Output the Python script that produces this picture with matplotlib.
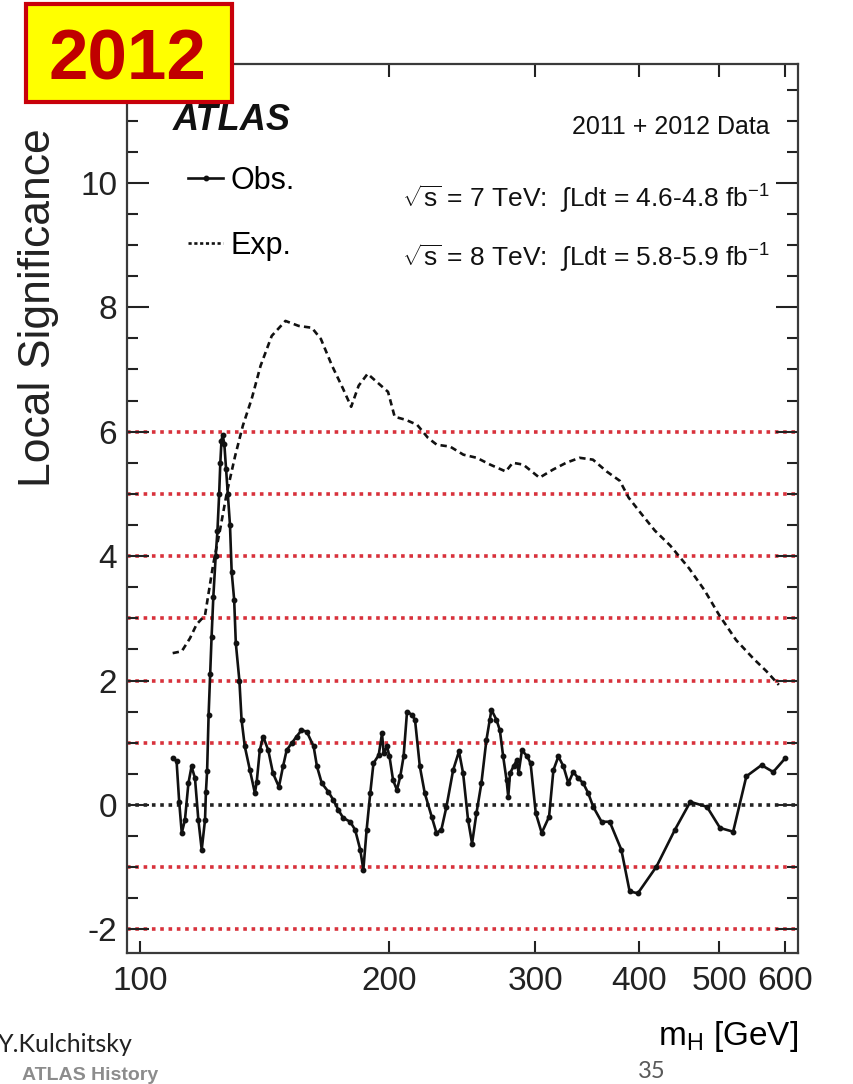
import matplotlib
matplotlib.use("Agg")
import matplotlib.pyplot as plt
from matplotlib.patches import Rectangle
from matplotlib.lines import Line2D

W, H = 854, 1084

# observed local significance (mass in GeV, value)
obs_m = [109.5, 110.7, 111.5, 112.3, 113.3, 114.4, 115.4, 116.5, 117.6, 118.7,
         119.8, 120.1, 120.5, 121.0, 121.5, 122.0, 122.6, 123.4, 124.0, 124.6,
         125.0, 125.4, 125.8, 126.4, 127.0, 127.6, 128.4, 129.0, 129.9, 130.5,
         131.8, 132.6, 133.8, 135.7, 137.6, 138.3, 139.5, 140.8, 142.8, 144.7,
         147.1, 148.8, 150.3, 152.4, 154.5, 156.6, 158.9, 162.0, 163.5, 165.7,
         168.8, 171.1, 173.5, 175.9, 179.3, 181.8, 184.4, 186.0, 187.7, 189.6,
         191.3, 194.1, 195.9, 196.8, 198.6, 200.0, 202.0, 204.2, 206.1, 208.0,
         210.0, 212.8, 214.7, 217.6, 220.6, 224.9, 227.9, 231.0, 234.3, 238.7,
         242.6, 245.4, 248.8, 251.6, 254.7, 258.2, 261.8, 264.3, 265.5, 269.2,
         271.8, 274.3, 276.9, 278.2, 279.6, 282.3, 284.9, 286.3, 289.0, 293.3,
         296.0, 300.3, 305.3, 311.6, 315.4, 319.8, 324.3, 328.8, 333.3, 337.9,
         342.6, 347.4, 352.3, 360.5, 368.8, 380.9, 389.8, 398.8, 420.0, 442.0,
         461.4, 483.2, 501.1, 519.7, 539.1, 562.3, 580.9, 600.6]
obs_z = [0.76, 0.70, 0.05, -0.45, -0.24, 0.35, 0.62, 0.43, -0.24, -0.72,
         -0.24, 0.21, 0.55, 1.45, 2.10, 2.70, 3.35, 4.00, 4.40, 5.00,
         5.50, 5.85, 5.95, 5.80, 5.40, 5.00, 4.50, 3.75, 3.30, 2.60,
         2.00, 1.37, 0.94, 0.56, 0.19, 0.37, 0.88, 1.10, 0.88, 0.51,
         0.29, 0.62, 0.88, 0.99, 1.10, 1.20, 1.18, 0.94, 0.62, 0.35,
         0.21, 0.08, -0.08, -0.21, -0.27, -0.40, -0.72, -1.04, -0.40, 0.19,
         0.67, 0.80, 1.15, 0.83, 0.94, 0.78, 0.40, 0.24, 0.46, 0.78,
         1.50, 1.45, 1.37, 0.62, 0.19, -0.19, -0.45, -0.40, -0.03, 0.56,
         0.86, 0.51, -0.24, -0.62, -0.13, 0.35, 1.04, 1.37, 1.53, 1.37,
         1.20, 0.78, 0.40, 0.13, 0.51, 0.62, 0.72, 0.51, 0.88, 0.78,
         0.67, -0.13, -0.45, -0.19, 0.56, 0.78, 0.62, 0.35, 0.53, 0.43,
         0.35, 0.19, -0.03, -0.27, -0.27, -0.72, -1.39, -1.42, -0.99, -0.40,
         0.05, -0.03, -0.37, -0.43, 0.46, 0.64, 0.53, 0.75]

# expected local significance
exp_m = [109.5, 112.3, 114.9, 117.0, 119.8, 122.6, 124.9, 127.2, 130.2, 133.1,
         136.4, 139.8, 144.2, 149.8, 155.4, 161.2, 165.3, 170.5, 175.8, 179.8,
         183.6, 188.2, 194.2, 199.2, 202.9, 209.3, 216.0, 222.6, 228.1, 236.7,
         245.6, 254.9, 264.6, 276.3, 281.7, 290.1, 303.4, 315.0, 326.8, 339.2,
         352.0, 365.7, 379.3, 388.7, 403.2, 418.1, 436.3, 460.0, 480.0, 500.0,
         524.0, 550.0, 570.0, 590.0]
exp_z = [2.44, 2.47, 2.68, 2.90, 3.05, 3.88, 4.42, 5.00, 5.60, 6.10,
         6.53, 7.06, 7.54, 7.78, 7.70, 7.67, 7.49, 7.06, 6.69, 6.40,
         6.74, 6.93, 6.77, 6.64, 6.24, 6.19, 6.11, 5.90, 5.79, 5.76,
         5.63, 5.58, 5.47, 5.36, 5.50, 5.47, 5.26, 5.39, 5.50, 5.58,
         5.55, 5.36, 5.21, 4.94, 4.67, 4.41, 4.17, 3.80, 3.45, 3.05,
         2.65, 2.35, 2.15, 1.93]

sigma_lines = [-2, -1, 1, 2, 3, 4, 5, 6]
x_ticks = [100, 200, 300, 400, 500, 600]
y_ticks = [-2, 0, 2, 4, 6, 8, 10]

plt.rcParams['font.family'] = ['Liberation Sans', 'DejaVu Sans']
plt.rcParams['axes.unicode_minus'] = False
plt.rcParams['mathtext.fontset'] = 'custom'
plt.rcParams['mathtext.rm'] = 'Liberation Sans'
plt.rcParams['mathtext.it'] = 'Liberation Sans:italic'
plt.rcParams['mathtext.bf'] = 'Liberation Sans:bold'

def fx(px):
    return px / W

def fy(py):
    return 1 - py / H

fig = plt.figure(figsize=(W / 100, H / 100), dpi=100)
ax = fig.add_axes([fx(127), fy(953), fx(798) - fx(127), fy(64) - fy(953)])

for s in sigma_lines:
    ax.axhline(s, color='#d8323c', lw=2.6, ls=(0, (1, 1.3)), zorder=1)
ax.axhline(0, color='#222222', lw=2.6, ls=(0, (1, 1.3)), zorder=1)

ax.plot(exp_m, exp_z, color='#111111', lw=1.9, ls=(0, (2.4, 1.6)), zorder=3)
ax.plot(obs_m, obs_z, color='#111111', lw=1.9, marker='o', ms=3.2, zorder=4)

ax.set_xscale('log')
ax.set_xlim(96.45, 622.3)
ax.set_ylim(-2.38, 11.91)

ax.set_xticks(x_ticks)
ax.set_xticklabels([str(t) for t in x_ticks])
ax.xaxis.set_minor_locator(matplotlib.ticker.NullLocator())
ax.set_yticks(y_ticks)
ax.yaxis.set_minor_locator(matplotlib.ticker.MultipleLocator(0.5))
ax.tick_params(axis='both', which='both', direction='in', top=True, right=True,
               labelsize=24, colors='#222222', width=1.5)
ax.tick_params(axis='y', which='major', length=16, pad=7)
ax.tick_params(axis='y', which='minor', length=8)
ax.tick_params(axis='x', which='major', length=9, pad=9)
for sp in ax.spines.values():
    sp.set_linewidth(1.6)
    sp.set_color('#3a3a3a')

ax.set_xlabel(r'm$_{\rm H}$ [GeV]', fontsize=24, loc='right', va='baseline')
ax.xaxis.set_label_coords(1.0, (953 - 1045) / 889)

fig.text(fx(50), fy(487), 'Local Significance', rotation=90, rotation_mode='anchor',
         ha='left', va='baseline', fontsize=32, color='#222222')

fig.text(fx(173), fy(130), 'ATLAS', fontsize=26, fontweight='bold', fontstyle='italic',
         ha='left', va='baseline', color='#111111')
fig.text(fx(770), fy(134), '2011 + 2012 Data', fontsize=18, ha='right', va='baseline',
         color='#111111')
fig.text(fx(770), fy(207), r'$\sqrt{\mathrm{s}}$ = 7 TeV:  $\int$Ldt = 4.6-4.8 fb$^{\mathrm{-1}}$',
         fontsize=19, ha='right', va='baseline', color='#111111')
fig.text(fx(770), fy(266), r'$\sqrt{\mathrm{s}}$ = 8 TeV:  $\int$Ldt = 5.8-5.9 fb$^{\mathrm{-1}}$',
         fontsize=19, ha='right', va='baseline', color='#111111')

h_obs = Line2D([], [], color='#111111', lw=1.9, marker='o', ms=3.2, markevery=[1])
h_exp = Line2D([], [], color='#111111', lw=1.9, ls=(0, (1.2, 1.0)))
ax.legend([h_obs, h_exp], ['Obs.', 'Exp.'], loc='upper left',
          bbox_to_anchor=((188 - 127) / 671, (953 - 166) / 889), frameon=False,
          fontsize=22, borderpad=0, borderaxespad=0, handlelength=1.15,
          handletextpad=0.25, labelspacing=1.15)

# year badge
fig.patches.append(Rectangle((fx(26), fy(102)), fx(232) - fx(26), fy(4) - fy(102),
                             transform=fig.transFigure, facecolor='#ffff00',
                             edgecolor='#c8000a', lw=3, zorder=10))
fig.text(fx(127), fy(80), '2012', fontsize=51, fontweight='bold', color='#c00000',
         ha='center', va='baseline', zorder=11)

fig.text(fx(-2), fy(1052), 'Y.Kulchitsky', fontsize=18, family=['Lato', 'DejaVu Sans'],
         color='#222222', ha='left', va='baseline')
fig.text(fx(22), fy(1080), 'ATLAS History', fontsize=14, fontweight='bold',
         color='#8c8c8c', ha='left', va='baseline')
fig.text(fx(638), fy(1078), '35', fontsize=17, family=['Lato', 'DejaVu Sans'],
         color='#595959', ha='left', va='baseline')

fig.savefig('out.png', dpi=100)
